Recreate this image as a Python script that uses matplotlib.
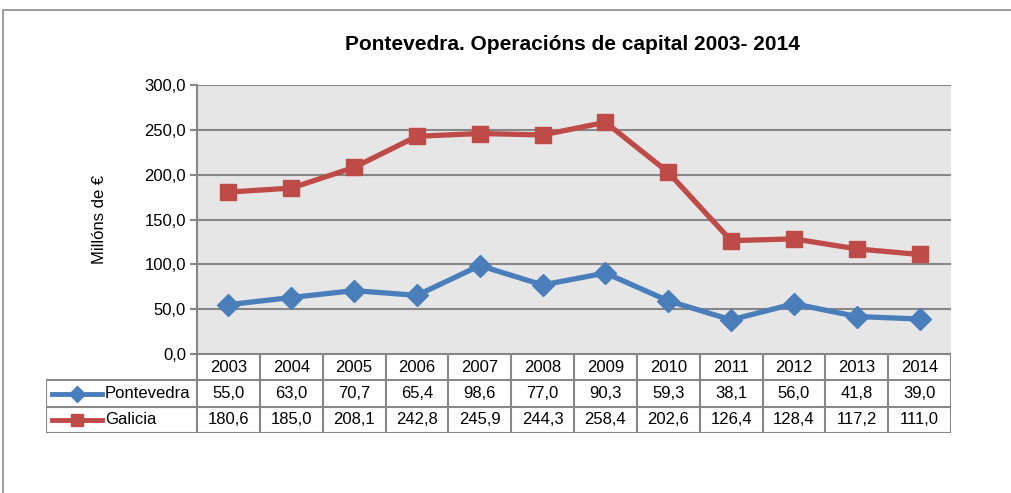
import matplotlib.pyplot as plt
from matplotlib.lines import Line2D
from matplotlib.patches import Rectangle

plt.rcParams['font.family'] = ['Liberation Sans', 'DejaVu Sans']

# datos
anos = ['2003', '2004', '2005', '2006', '2007', '2008',
        '2009', '2010', '2011', '2012', '2013', '2014']
pontevedra = [55.0, 63.0, 70.7, 65.4, 98.6, 77.0, 90.3, 59.3, 38.1, 56.0, 41.8, 39.0]
galicia = [180.6, 185.0, 208.1, 242.8, 245.9, 244.3, 258.4, 202.6, 126.4, 128.4, 117.2, 111.0]
series = [('Pontevedra', pontevedra, '#4A7EBB', 'D', 11),
          ('Galicia', galicia, '#BE4B48', 's', 12)]
yticks = [0, 50, 100, 150, 200, 250, 300]

W, H = 1011, 493
fs = 12
fig = plt.figure(figsize=(W / 100, H / 100), dpi=100)

def fx(px):
    return px / W

def fy(py):
    return 1 - py / H

# marco do grafico
fig.patches.append(Rectangle((fx(3), fy(1100)), fx(1100), fy(10) - fy(1100),
                             transform=fig.transFigure, fill=False,
                             edgecolor='#8c8c8c', linewidth=1.2))

gris = '#878787'
left, right, top, bottom = 197, 951, 85, 354
ax = fig.add_axes([fx(left), fy(bottom), fx(right - left), fy(top) - fy(bottom)])
ax.set_facecolor('#E6E6E6')
ax.set_xlim(-0.5, len(anos) - 0.5)
ax.set_ylim(0, 300)
ax.set_yticks(yticks)
ax.set_yticklabels([f'{v:.1f}'.replace('.', ',') for v in yticks], fontsize=fs)
ax.set_xticks([])
for s in ['top', 'right', 'bottom']:
    ax.spines[s].set_visible(False)
ax.spines['left'].set_color(gris)
ax.spines['left'].set_linewidth(1.5)
ax.tick_params(axis='y', direction='out', length=5, width=1.5, color=gris, pad=3)
ax.grid(axis='y', color=gris, linewidth=1.5)
ax.set_axisbelow(True)
ax.set_ylabel('Millóns de €', fontsize=fs, labelpad=27)

x = range(len(anos))
for nome, vals, cor, mk, ms in series:
    ax.plot(x, vals, color=cor, linewidth=3.8, marker=mk, markersize=ms,
            markeredgecolor=cor, zorder=3)

fig.text(fx(572), fy(45), 'Pontevedra. Operacións de capital 2003- 2014',
         ha='center', va='center', fontsize=15, fontweight='bold')

# taboa de datos
tleft, tbottom = 46, 433
rows = [354, 380, 407, 433]
unit = (right - left) / len(anos)
lab_w = (left - tleft) / unit
tax = fig.add_axes([fx(tleft), fy(tbottom), fx(right - tleft), fy(rows[0]) - fy(tbottom)])
tax.set_xlim(-0.5 - lab_w, len(anos) - 0.5)
tax.set_ylim(3, 0)
tax.axis('off')

lw = 1.5
# linhas horizontais
tax.plot([-0.5, len(anos) - 0.5], [0, 0], color=gris, lw=lw)
for r in [1, 2, 3]:
    tax.plot([-0.5 - lab_w, len(anos) - 0.5], [r, r], color=gris, lw=lw)
# linhas verticais
tax.plot([-0.5 - lab_w, -0.5 - lab_w], [1, 3], color=gris, lw=lw)
for i in range(len(anos) + 1):
    tax.plot([i - 0.5, i - 0.5], [0, 3], color=gris, lw=lw)

for i, a in enumerate(anos):
    tax.text(i, 0.5, a, ha='center', va='center', fontsize=fs)
for r, (nome, vals, cor, mk, ms) in enumerate(series, start=1):
    for i, v in enumerate(vals):
        tax.text(i, r + 0.5, f'{v:.1f}'.replace('.', ','), ha='center', va='center', fontsize=fs)
    x0 = -0.5 - lab_w + 6 / unit
    x1 = x0 + 50 / unit
    tax.add_line(Line2D([x0, x1], [r + 0.5, r + 0.5], color=cor, lw=3.5))
    tax.plot([(x0 + x1) / 2], [r + 0.5], marker=mk, markersize=ms * 0.75, color=cor)
    tax.text(x1 + 3 / unit, r + 0.5, nome, ha='left', va='center', fontsize=fs)

fig.savefig('out.png', dpi=100)
